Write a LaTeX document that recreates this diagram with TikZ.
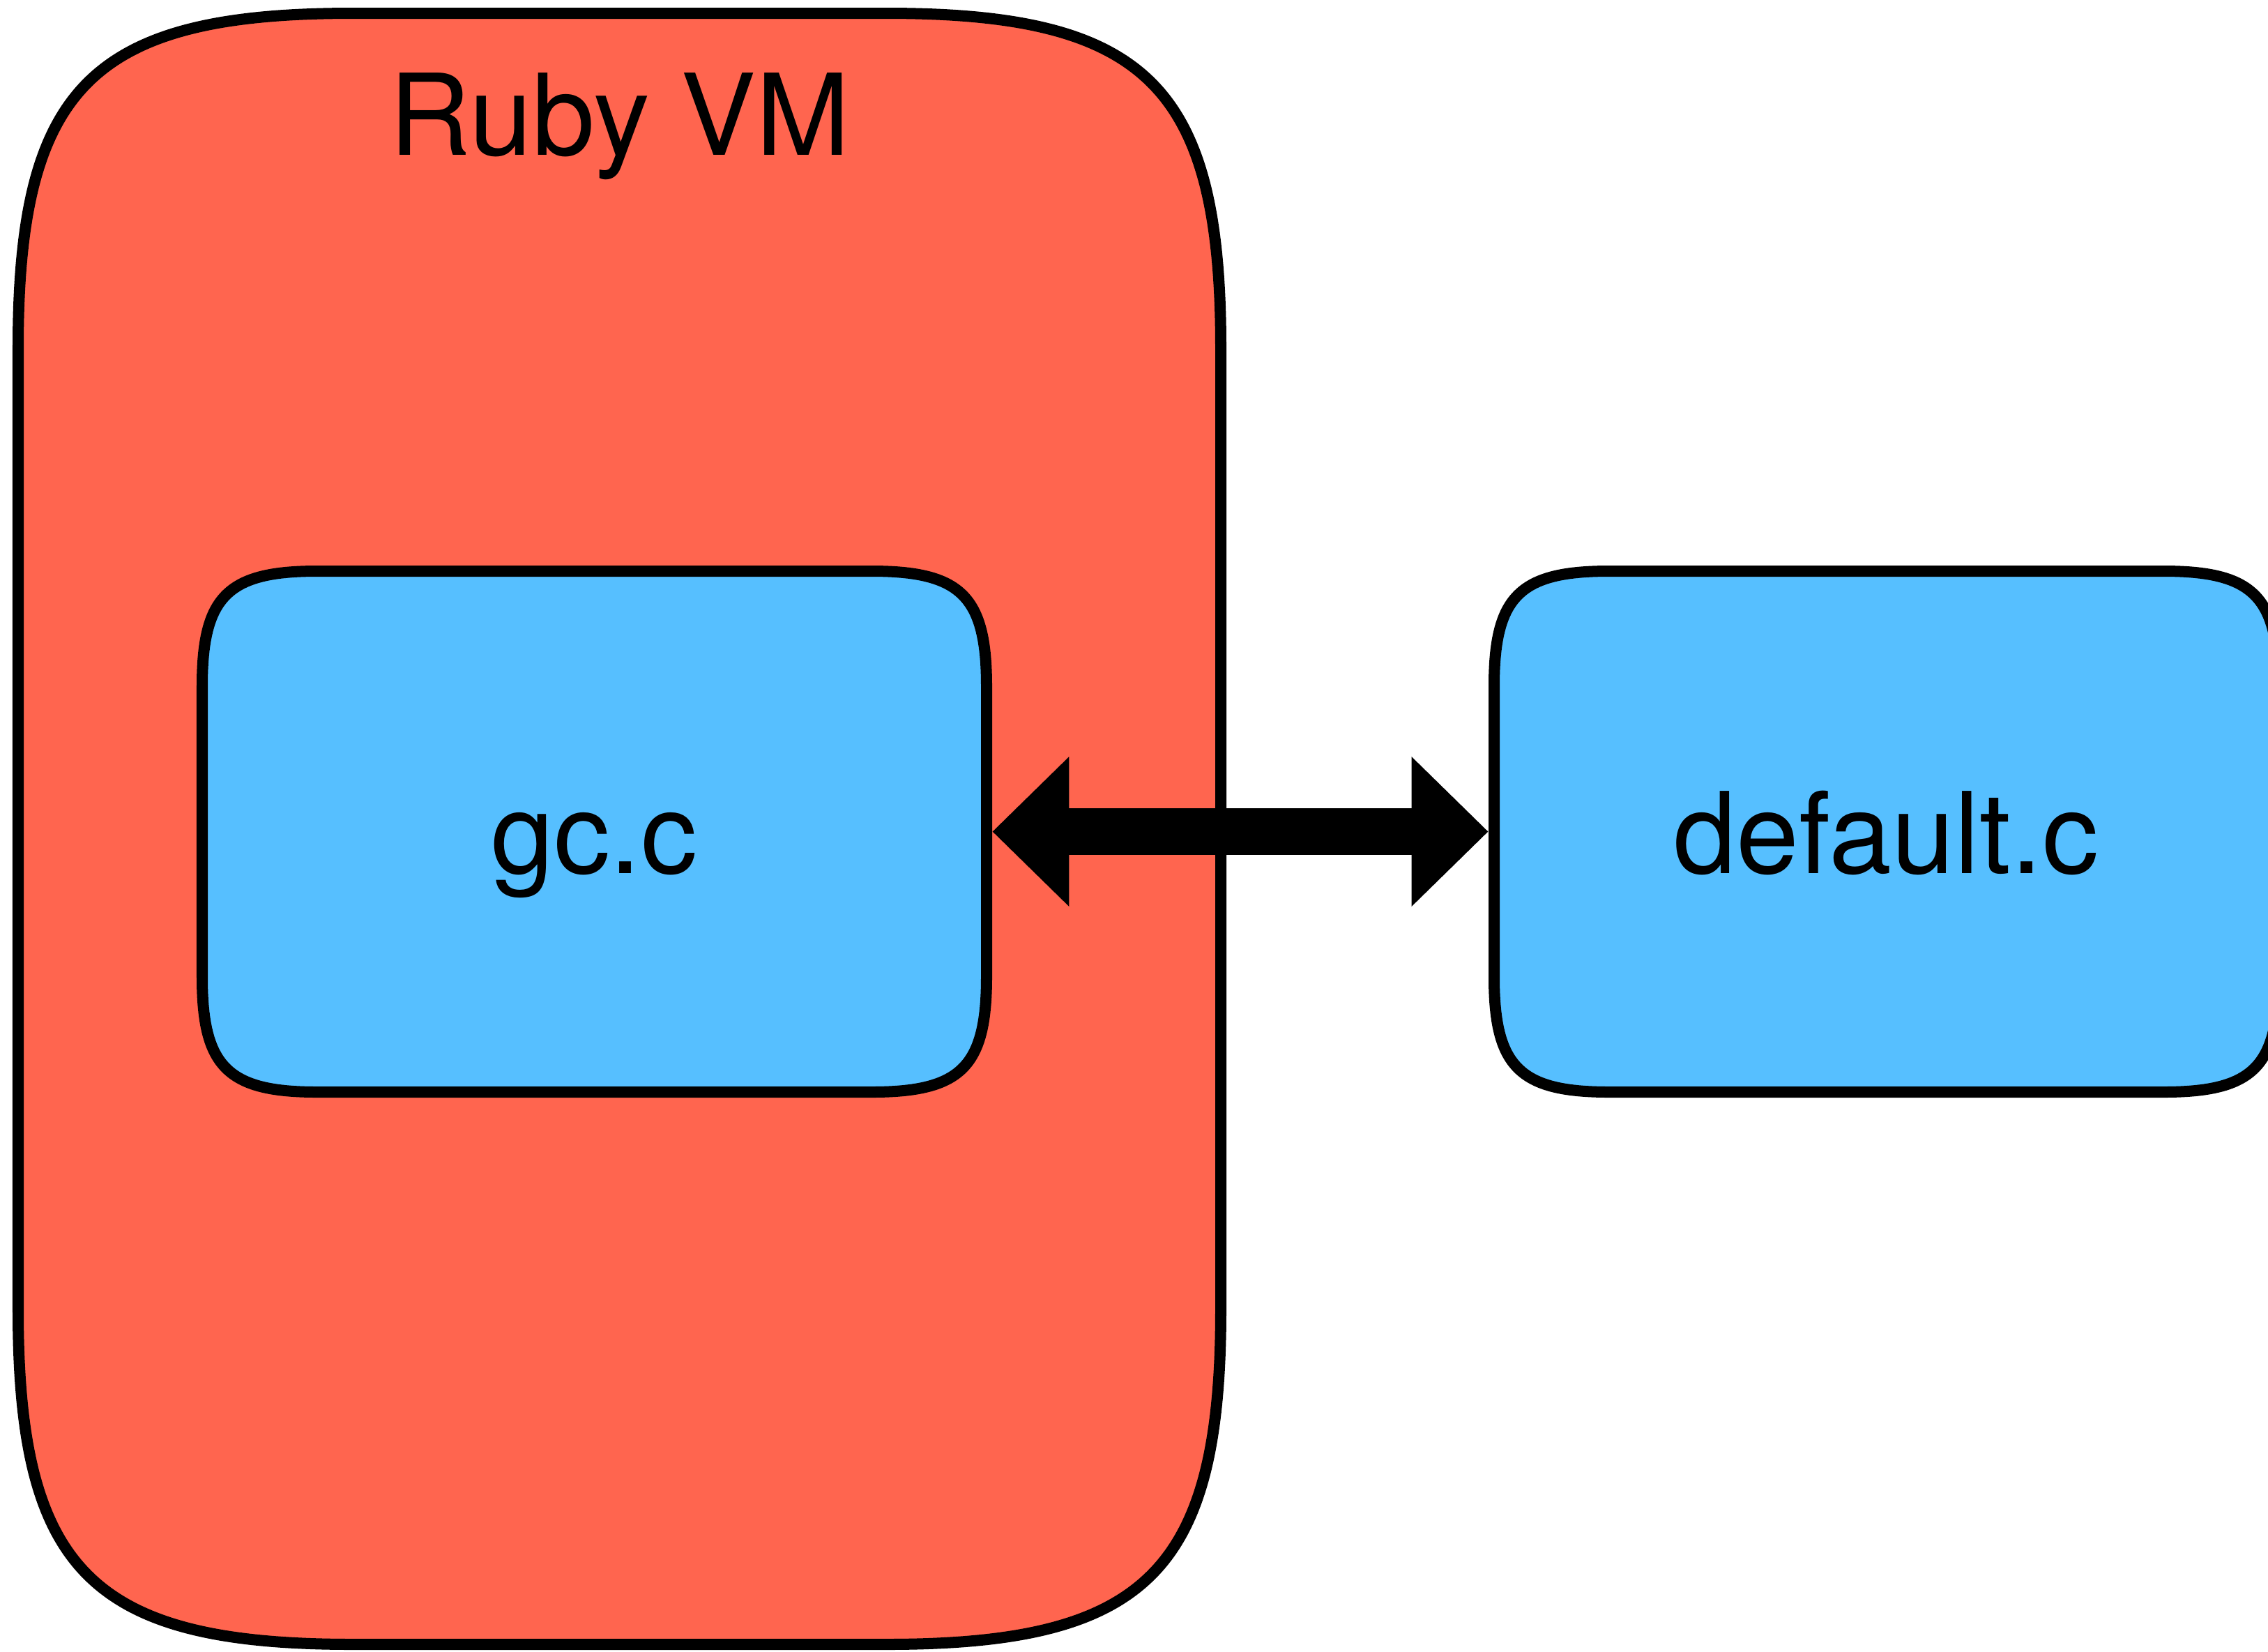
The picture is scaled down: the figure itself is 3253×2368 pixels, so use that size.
\documentclass[tikz,border=0pt]{standalone}
\usepackage{fontspec}
\setmainfont{TeX Gyre Heros}
\usetikzlibrary{arrows.meta}
\definecolor{vmred}{RGB}{255,101,79}
\definecolor{fileblue}{RGB}{86,191,255}
% smooth rounded rectangle: #1 style, #2 x1, #3 y1, #4 x2, #5 y2, #6 corner extent
\def\sqk{0.22}
\newcommand{\smoothframe}[6]{%
  \path[#1] (#2+#6,#3) -- (#4-#6,#3)
    .. controls (#4-\sqk*#6,#3) and (#4,#3+\sqk*#6) .. (#4,#3+#6)
    -- (#4,#5-#6)
    .. controls (#4,#5-\sqk*#6) and (#4-\sqk*#6,#5) .. (#4-#6,#5)
    -- (#2+#6,#5)
    .. controls (#2+\sqk*#6,#5) and (#2,#5-\sqk*#6) .. (#2,#5-#6)
    -- (#2,#3+#6)
    .. controls (#2,#3+\sqk*#6) and (#2+\sqk*#6,#3) .. (#2+#6,#3) -- cycle;}
\begin{document}
\begin{tikzpicture}[x=0.01cm,y=-0.01cm,
  frame/.style={draw=black, line width=0.16cm, line join=round},
  vmframe/.style={frame, fill=vmred},
  fileframe/.style={frame, fill=fileblue},
  vmbox/.style={rectangle, minimum width=17.25cm, minimum height=23.39cm, outer sep=0.08cm},
  filebox/.style={rectangle, minimum width=11.25cm, minimum height=7.47cm, outer sep=0.08cm, font=\fontsize{46}{55}\selectfont, text height=1.45cm, text depth=0.25cm},
  lbl/.style={font=\fontsize{46}{55}\selectfont, inner sep=0pt},
  link/.style={line width=0.67cm, {Triangle[length=1.10cm,width=2.08cm]}-{Triangle[length=1.10cm,width=2.08cm]}}
]
\useasboundingbox (0,0) rectangle (3253,2368);
% shapes
\smoothframe{vmframe}{26}{19}{1751}{2358}{480}
\smoothframe{fileframe}{290}{819}{1415}{1566}{165}
\smoothframe{fileframe}{2143}{819}{3268}{1566}{165}
% nodes
\node[vmbox] (vm) at (888.5,1188.5) {};
\node[lbl, anchor=base] (vmlabel) at (889,222) {Ruby VM};
\node[filebox] (gc) at (852.5,1192.5) {gc.c};
\node[filebox] (def) at (2705.5,1192.5) {default.c};
\draw[link] (gc.east) -- (def.west);
\end{tikzpicture}
\end{document}
